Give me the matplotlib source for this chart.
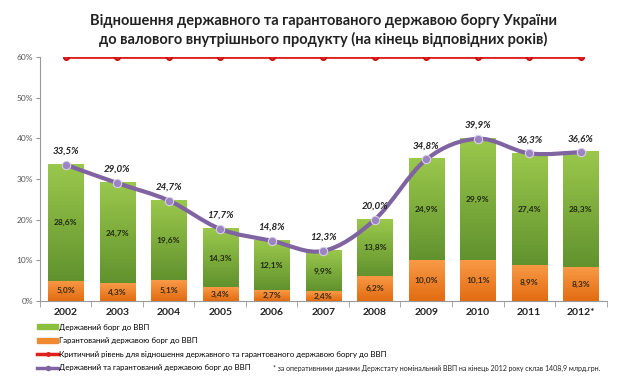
import numpy as np
import matplotlib
matplotlib.use("Agg")
import matplotlib.pyplot as plt
from matplotlib.path import Path
from matplotlib.patches import PathPatch
from matplotlib.colors import LinearSegmentedColormap
from matplotlib.lines import Line2D
from matplotlib.patches import Patch

plt.rcParams['font.family'] = ['Lato', 'DejaVu Sans']

# data
years = ['2002', '2003', '2004', '2005', '2006', '2007', '2008', '2009', '2010', '2011', '2012*']
state_debt = [28.6, 24.7, 19.6, 14.3, 12.1, 9.9, 13.8, 24.9, 29.9, 27.4, 28.3]
guaranteed_debt = [5.0, 4.3, 5.1, 3.4, 2.7, 2.4, 6.2, 10.0, 10.1, 8.9, 8.3]
total_debt = [33.5, 29.0, 24.7, 17.7, 14.8, 12.3, 20.0, 34.8, 39.9, 36.3, 36.6]
critical_level = [60] * len(years)

legend_labels = ['Державний борг до ВВП',
                 'Гарантований державою борг до ВВП',
                 'Критичний рівень для відношення державного та гарантованого державою боргу до ВВП',
                 'Державний та гарантований державою борг до ВВП']

def fmt(v):
    return f"{v:.1f}%".replace('.', ',')

x = np.arange(len(years))
width = 0.68

fig = plt.figure(figsize=(6.24, 3.8), dpi=100)
ax = fig.add_axes([0.064, 0.208, 0.908, 0.642])

green_cmap = LinearSegmentedColormap.from_list('g', ['#62922e', '#9ac84c'])
orange_cmap = LinearSegmentedColormap.from_list('o', ['#e26c12', '#f99a46'])
grad = np.linspace(0, 1, 64).reshape(-1, 1)

bars_o = ax.bar(x, guaranteed_debt, width, color='none', zorder=2)
bars_g = ax.bar(x, state_debt, width, bottom=guaranteed_debt, color='none', zorder=2)
for b in bars_o:
    ax.imshow(grad, extent=[b.get_x(), b.get_x() + b.get_width(), b.get_y(), b.get_y() + b.get_height()],
              origin='lower', aspect='auto', cmap=orange_cmap, zorder=2)
for b in bars_g:
    ax.imshow(grad, extent=[b.get_x(), b.get_x() + b.get_width(), b.get_y(), b.get_y() + b.get_height()],
              origin='lower', aspect='auto', cmap=green_cmap, zorder=2)

# segment labels
for i in range(len(x)):
    ax.text(x[i], guaranteed_debt[i] / 2, fmt(guaranteed_debt[i]), ha='center', va='center',
            fontsize=6, fontweight='bold', color='#3a2a10', zorder=5)
    ax.text(x[i], guaranteed_debt[i] + state_debt[i] / 2, fmt(state_debt[i]), ha='center', va='center',
            fontsize=6, fontweight='bold', color='#1e2a10', zorder=5)

# critical level line
ax.plot(x, critical_level, color='#e0201c', lw=2, marker='o', ms=4, mec='#c01010', zorder=4)

# smooth total line (catmull-rom -> bezier)
pts = np.column_stack([x, total_debt]).astype(float)
verts = [pts[0]]
codes = [Path.MOVETO]
for i in range(len(pts) - 1):
    p0 = pts[i - 1] if i > 0 else pts[i]
    p1, p2 = pts[i], pts[i + 1]
    p3 = pts[i + 2] if i + 2 < len(pts) else pts[i + 1]
    c1 = p1 + (p2 - p0) / 6
    c2 = p2 - (p3 - p1) / 6
    verts += [c1, c2, p2]
    codes += [Path.CURVE4] * 3
ax.add_patch(PathPatch(Path(verts, codes), fill=False, edgecolor='#8064a2', lw=3, zorder=6))
ax.plot(x, total_debt, ls='none', marker='o', ms=6, mfc='#9a84c2', mec='#d8d0e8', mew=0.8, zorder=7)
for i in range(len(x)):
    ax.text(x[i], total_debt[i] + 2.2, fmt(total_debt[i]), ha='center', va='bottom',
            fontsize=7, fontweight='bold', fontstyle='italic', color='#222222', zorder=8)

ax.set_xlim(-0.5, len(x) - 0.5)
ax.set_ylim(0, 60)
ax.set_yticks(range(0, 61, 10))
ax.set_yticklabels([f"{v}%" for v in range(0, 61, 10)], fontsize=6, color='#555555')
ax.set_xticks(x)
ax.set_xticklabels(years, fontsize=7.5, fontweight='bold', color='#222222')
ax.set_xticks(np.arange(-0.5, len(x), 1), minor=True)
ax.tick_params(axis='x', which='major', length=0, pad=5)
ax.tick_params(axis='x', which='minor', length=4, color='#999999')
ax.tick_params(axis='y', length=3, color='#999999', pad=2)
for s in ['top', 'right']:
    ax.spines[s].set_visible(False)
ax.spines['left'].set_color('#999999')
ax.spines['bottom'].set_color('#999999')

fig.text(0.518, 0.965, 'Відношення державного та гарантованого державою боргу України\n'
         'до валового внутрішнього продукту (на кінець відповідних років)',
         ha='center', va='top', fontsize=10.5, fontweight='bold', color='#222222', linespacing=1.35)

handles = [Patch(color='#8cbf40'), Patch(color='#f08a30'),
           Line2D([], [], color='#e0201c', lw=2.5, marker='o', ms=2.5),
           Line2D([], [], color='#8064a2', lw=2.5, marker='o', ms=3)]
fig.legend(handles, legend_labels, loc='upper left', bbox_to_anchor=(0.059, 0.148), frameon=False,
           fontsize=5.7, handlelength=2.7, handleheight=0.6, handletextpad=0.05, labelspacing=0.82,
           borderpad=0, borderaxespad=0)

fig.text(0.962, 0.02, '* за оперативними даними Держстату номінальний ВВП на кінець 2012 року склав 1408,9 млрд.грн.',
         ha='right', va='bottom', fontsize=5.0, color='#222222')

fig.savefig('out.png', dpi=100)
